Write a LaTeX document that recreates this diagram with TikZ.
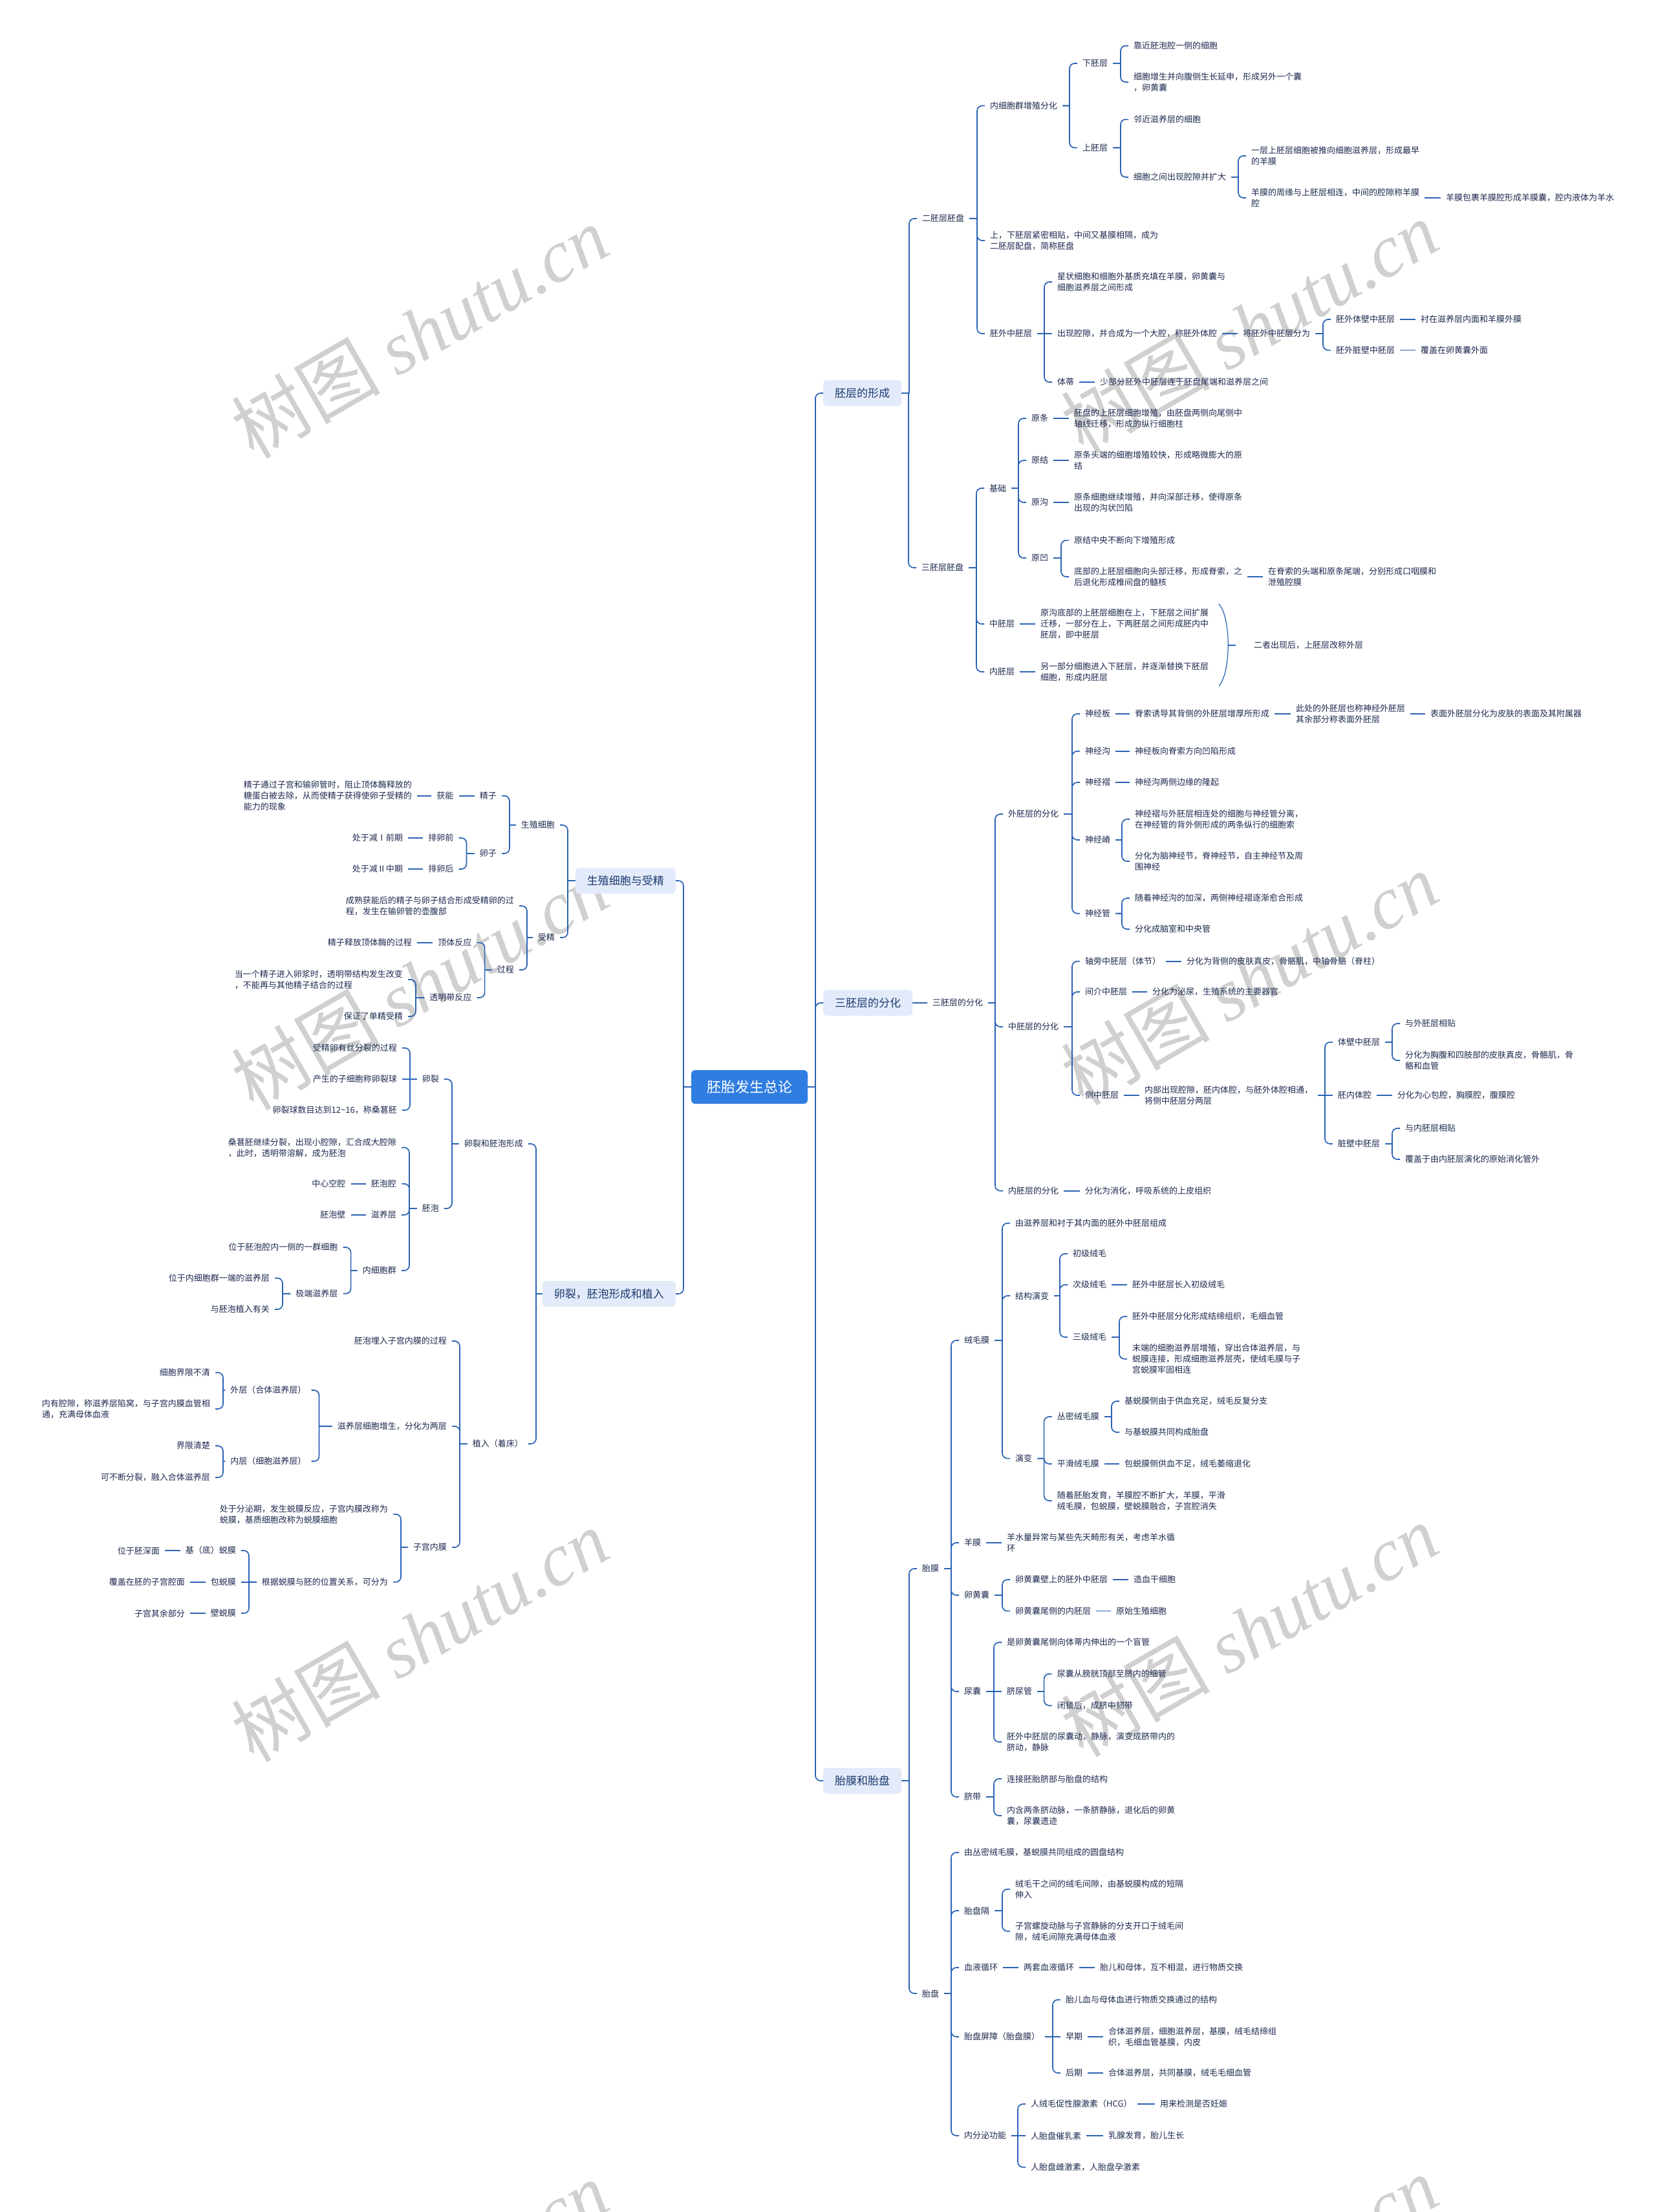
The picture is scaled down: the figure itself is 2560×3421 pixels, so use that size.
\documentclass[tikz,border=0pt]{standalone}
\usepackage{fontspec}
\setmainfont{Noto Sans CJK SC}
\newfontfamily\wmlat{Liberation Serif}
\usetikzlibrary{calc}
\definecolor{linec}{RGB}{43,99,180}
\definecolor{txtc}{RGB}{30,42,80}
\definecolor{boxf}{RGB}{227,235,250}
\definecolor{boxt}{RGB}{28,58,110}
\definecolor{rootf}{RGB}{47,125,225}
\definecolor{wmc}{RGB}{208,208,208}
\tikzset{
 mmtxt/.style={font=\fontsize{13pt}{17pt}\selectfont, text=txtc, inner xsep=8pt, inner ysep=2pt, align=left},
 nR/.style={mmtxt, anchor=west, xshift=-8pt},
 nL/.style={mmtxt, anchor=east, xshift=8pt},
 brbox/.style={font=\fontsize{17pt}{20pt}\selectfont, text=boxt, fill=boxf, rounded corners=6pt, inner xsep=18pt, inner ysep=0pt, minimum height=40pt},
 brR/.style={brbox, anchor=west},
 brL/.style={brbox, anchor=east},
 rootn/.style={font=\fontsize{22pt}{26pt}\selectfont, text=white, fill=rootf, rounded corners=6pt, inner xsep=24pt, inner ysep=0pt, minimum height=52pt},
 conn/.style={draw=linec, line width=1.7pt, rounded corners=8pt},
 wmark/.style={font=\fontsize{115pt}{120pt}\selectfont, text=wmc, rotate=30, anchor=center},
}
\newcommand\mmR[2]{\draw[conn] let \p1=(#1.east), \p2=(#2.west) in (\p1) -- (\x2-12pt,\y1) (\x2-12pt,\y1) -- (\x2-12pt,\y2) -- (\p2);}
\newcommand\mmS[2]{\draw[conn] (#1.east) -- (#2.west);}
\newcommand\mmL[2]{\draw[conn] let \p1=(#1.west), \p2=(#2.east) in (\p1) -- (\x2+12pt,\y1) (\x2+12pt,\y1) -- (\x2+12pt,\y2) -- (\p2);}
\newcommand\mmT[2]{\draw[conn] (#1.west) -- (#2.east);}
\begin{document}
\begin{tikzpicture}[x=1pt,y=-1pt]
\useasboundingbox (0,0) rectangle (2560,3421);
\fill[white] (0,0) rectangle (2560,3421);
% watermarks
\foreach \wy in {513,1521,2529,3537}{
 \node[wmark] at (649,\wy) {树图 {\wmlat\itshape shutu.cn}};
 \node[wmark] at (1932,\wy-8) {树图 {\wmlat\itshape shutu.cn}};
}
% root and branches
\node[rootn] (root) at (1159,1681) {胚胎发生总论};
\node[brR] (A) at (1273,608) {胚层的形成};
\node[brR] (B) at (1273,1551) {三胚层的分化};
\node[brR] (C) at (1273,2754) {胎膜和胎盘};
\node[brL] (D) at (1045,1362) {生殖细胞与受精};
\node[brL] (E) at (1045,2001) {卵裂，胚泡形成和植入};
\mmR{root}{A}\mmR{root}{B}\mmR{root}{C}
\mmL{root}{D}\mmL{root}{E}

% ===== A 胚层的形成
\node[nR] (A1) at (1426,338) {二胚层胚盘};
\node[nR] (A2) at (1425,878) {三胚层胚盘};
\mmR{A}{A1}\mmR{A}{A2}
\node[nR] (A11) at (1531,163.5) {内细胞群增殖分化};
\node[nR] (A12) at (1531,372) {上，下胚层紧密相贴，中间又基膜相隔，成为\\二胚层配盘，简称胚盘};
\node[nR] (A13) at (1531,516) {胚外中胚层};
\mmR{A1}{A11}\mmR{A1}{A12}\mmR{A1}{A13}
\node[nR] (A111) at (1674,98) {下胚层};
\node[nR] (A112) at (1674,228.5) {上胚层};
\mmR{A11}{A111}\mmR{A11}{A112}
\node[nR] (A1111) at (1753,70.7) {靠近胚泡腔一侧的细胞};
\node[nR] (A1112) at (1753,127) {细胞增生并向腹侧生长延申，形成另外一个囊\\，卵黄囊};
\mmR{A111}{A1111}\mmR{A111}{A1112}
\node[nR] (A1121) at (1753,184.6) {邻近滋养层的细胞};
\node[nR] (A1122) at (1753,274) {细胞之间出现腔隙并扩大};
\mmR{A112}{A1121}\mmR{A112}{A1122}
\node[nR] (A11221) at (1935,241) {一层上胚层细胞被推向细胞滋养层，形成最早\\的羊膜};
\node[nR] (A11222) at (1935,306) {羊膜的周缘与上胚层相连，中间的腔隙称羊膜\\腔};
\mmR{A1122}{A11221}\mmR{A1122}{A11222}
\node[nR] (A112221) at (2236,306) {羊膜包裹羊膜腔形成羊膜囊，腔内液体为羊水};
\mmS{A11222}{A112221}
\node[nR] (A131) at (1635,436) {星状细胞和细胞外基质充填在羊膜，卵黄囊与\\细胞滋养层之间形成};
\node[nR] (A132) at (1635,516) {出现腔隙，并合成为一个大腔，称胚外体腔};
\node[nR] (A133) at (1635,591) {体蒂};
\mmR{A13}{A131}\mmS{A13}{A132}\mmR{A13}{A133}
\node[nR] (A1321) at (1922,516) {将胚外中胚层分为};
\mmS{A132}{A1321}
\node[nR] (A13211) at (2066,494) {胚外体壁中胚层};
\node[nR] (A13212) at (2066,541.6) {胚外脏壁中胚层};
\mmR{A1321}{A13211}\mmR{A1321}{A13212}
\node[nR] (A132111) at (2197,494) {衬在滋养层内面和羊膜外膜};
\node[nR] (A132121) at (2197,541.6) {覆盖在卵黄囊外面};
\mmS{A13211}{A132111}\mmS{A13212}{A132121}
\node[nR] (A1331) at (1701,591) {少部分胚外中胚层连于胚盘尾端和滋养层之间};
\mmS{A133}{A1331}

\node[nR] (A21) at (1530,755) {基础};
\node[nR] (A22) at (1530,965) {中胚层};
\node[nR] (A23) at (1530,1039) {内胚层};
\mmR{A2}{A21}\mmR{A2}{A22}\mmR{A2}{A23}
\node[nR] (A211) at (1595,647) {原条};
\node[nR] (A212) at (1595,712) {原结};
\node[nR] (A213) at (1595,777) {原沟};
\node[nR] (A214) at (1595,863) {原凹};
\mmR{A21}{A211}\mmR{A21}{A212}\mmR{A21}{A213}\mmR{A21}{A214}
\node[nR] (A2111) at (1661,647) {胚盘的上胚层细胞增殖，由胚盘两侧向尾侧中\\轴线迁移，形成的纵行细胞柱};
\node[nR] (A2121) at (1661,712) {原条头端的细胞增殖较快，形成略微膨大的原\\结};
\node[nR] (A2131) at (1661,777) {原条细胞继续增殖，并向深部迁移，使得原条\\出现的沟状凹陷};
\mmS{A211}{A2111}\mmS{A212}{A2121}\mmS{A213}{A2131}
\node[nR] (A2141) at (1661,835.6) {原结中央不断向下增殖形成};
\node[nR] (A2142) at (1661,892) {底部的上胚层细胞向头部迁移，形成脊索，之\\后退化形成椎间盘的髓核};
\mmR{A214}{A2141}\mmR{A214}{A2142}
\node[nR] (A21421) at (1961,892) {在脊索的头端和原条尾端，分别形成口咽膜和\\泄殖腔膜};
\mmS{A2142}{A21421}
\node[nR] (A221) at (1609,965) {原沟底部的上胚层细胞在上，下胚层之间扩展\\迁移，一部分在上，下两胚层之间形成胚内中\\胚层，即中胚层};
\node[nR] (A231) at (1609,1039) {另一部分细胞进入下胚层，并逐渐替换下胚层\\细胞，形成内胚层};
\mmS{A22}{A221}\mmS{A23}{A231}
\coordinate (brT) at (1885,934);
\coordinate (brB) at (1885,1061);
\coordinate (brM) at (1899,998);
\coordinate (brE) at (1911,998);
\draw[draw=linec, line width=1.2pt] (brT) .. controls (1904,955) and (1904,1040) .. (brB);
\draw[draw=linec, line width=1.5pt] (brM) -- (brE);
\node[nR] (Asum) at (1939,998) {二者出现后，上胚层改称外层};

% ===== B 三胚层的分化
\node[nR] (B1) at (1442,1551) {三胚层的分化};
\mmS{B}{B1}
\node[nR] (B11) at (1559,1259) {外胚层的分化};
\node[nR] (B12) at (1559,1588) {中胚层的分化};
\node[nR] (B13) at (1559,1841.7) {内胚层的分化};
\mmR{B1}{B11}\mmR{B1}{B12}\mmR{B1}{B13}
\node[nR] (B111) at (1678,1104) {神经板};
\node[nR] (B112) at (1678,1161.7) {神经沟};
\node[nR] (B113) at (1678,1210) {神经褶};
\node[nR] (B114) at (1678,1299) {神经嵴};
\node[nR] (B115) at (1678,1412.7) {神经管};
\mmR{B11}{B111}\mmR{B11}{B112}\mmR{B11}{B113}\mmR{B11}{B114}\mmR{B11}{B115}
\node[nR] (B1111) at (1755,1104) {脊索诱导其背侧的外胚层增厚所形成};
\node[nR] (B11111) at (2004,1104) {此处的外胚层也称神经外胚层\\其余部分称表面外胚层};
\node[nR] (B111111) at (2212,1104) {表面外胚层分化为皮肤的表面及其附属器};
\mmS{B111}{B1111}\mmS{B1111}{B11111}\mmS{B11111}{B111111}
\node[nR] (B1121) at (1755,1161.7) {神经板向脊索方向凹陷形成};
\node[nR] (B1131) at (1755,1210) {神经沟两侧边缘的隆起};
\mmS{B112}{B1121}\mmS{B113}{B1131}
\node[nR] (B1141) at (1755,1267) {神经褶与外胚层相连处的细胞与神经管分离，\\在神经管的背外侧形成的两条纵行的细胞索};
\node[nR] (B1142) at (1755,1332) {分化为脑神经节，脊神经节，自主神经节及周\\围神经};
\mmR{B114}{B1141}\mmR{B114}{B1142}
\node[nR] (B1151) at (1755,1389) {随着神经沟的加深，两侧神经褶逐渐愈合形成};
\node[nR] (B1152) at (1755,1437) {分化成脑室和中央管};
\mmR{B115}{B1151}\mmR{B115}{B1152}
\node[nR] (B121) at (1678,1486.7) {轴旁中胚层（体节）};
\node[nR] (B122) at (1678,1534) {间介中胚层};
\node[nR] (B123) at (1678,1694) {侧中胚层};
\mmR{B12}{B121}\mmR{B12}{B122}\mmR{B12}{B123}
\node[nR] (B1211) at (1835,1486.7) {分化为背侧的皮肤真皮，骨骼肌，中轴骨骼（脊柱）};
\node[nR] (B1221) at (1782,1534) {分化为泌尿，生殖系统的主要器官};
\mmS{B121}{B1211}\mmS{B122}{B1221}
\node[nR] (B1231) at (1770,1694) {内部出现腔隙，胚内体腔，与胚外体腔相通，\\将侧中胚层分两层};
\mmS{B123}{B1231}
\node[nR] (B12311) at (2069,1611.7) {体壁中胚层};
\node[nR] (B12312) at (2069,1694) {胚内体腔};
\node[nR] (B12313) at (2069,1769) {脏壁中胚层};
\mmR{B1231}{B12311}\mmS{B1231}{B12312}\mmR{B1231}{B12313}
\node[nR] (B123111) at (2173,1583) {与外胚层相贴};
\node[nR] (B123112) at (2173,1640) {分化为胸腹和四肢部的皮肤真皮，骨骼肌，骨\\骼和血管};
\mmR{B12311}{B123111}\mmR{B12311}{B123112}
\node[nR] (B123121) at (2161,1694) {分化为心包腔，胸膜腔，腹膜腔};
\mmS{B12312}{B123121}
\node[nR] (B123131) at (2173,1745) {与内胚层相贴};
\node[nR] (B123132) at (2173,1793) {覆盖于由内胚层演化的原始消化管外};
\mmR{B12313}{B123131}\mmR{B12313}{B123132}
\node[nR] (B131) at (1678,1841.7) {分化为消化，呼吸系统的上皮组织};
\mmS{B13}{B131}

% ===== C 胎膜和胎盘
\node[nR] (C1) at (1426,2426) {胎膜};
\node[nR] (C2) at (1426,3083) {胎盘};
\mmR{C}{C1}\mmR{C}{C2}
\node[nR] (C11) at (1491,2073) {绒毛膜};
\node[nR] (C12) at (1491,2386) {羊膜};
\node[nR] (C13) at (1491,2467) {卵黄囊};
\node[nR] (C14) at (1491,2616) {尿囊};
\node[nR] (C15) at (1491,2779) {脐带};
\mmR{C1}{C11}\mmR{C1}{C12}\mmR{C1}{C13}\mmR{C1}{C14}\mmR{C1}{C15}
\node[nR] (C111) at (1570,1891.7) {由滋养层和衬于其内面的胚外中胚层组成};
\node[nR] (C112) at (1570,2004) {结构演变};
\node[nR] (C113) at (1570,2255.6) {演变};
\mmR{C11}{C111}\mmR{C11}{C112}\mmR{C11}{C113}
\node[nR] (C1121) at (1659,1939) {初级绒毛};
\node[nR] (C1122) at (1659,1987) {次级绒毛};
\node[nR] (C1123) at (1659,2068) {三级绒毛};
\mmR{C112}{C1121}\mmR{C112}{C1122}\mmR{C112}{C1123}
\node[nR] (C11221) at (1751,1987) {胚外中胚层长入初级绒毛};
\mmS{C1122}{C11221}
\node[nR] (C11231) at (1751,2036) {胚外中胚层分化形成结缔组织，毛细血管};
\node[nR] (C11232) at (1751,2101.7) {末端的细胞滋养层增殖，穿出合体滋养层，与\\蜕膜连接，形成细胞滋养层壳，使绒毛膜与子\\宫蜕膜牢固相连};
\mmR{C1123}{C11231}\mmR{C1123}{C11232}
\node[nR] (C1131) at (1634.6,2191) {丛密绒毛膜};
\node[nR] (C1132) at (1634.6,2264) {平滑绒毛膜};
\node[nR] (C1133) at (1634.6,2321) {随着胚胎发育，羊膜腔不断扩大，羊膜，平滑\\绒毛膜，包蜕膜，壁蜕膜融合，子宫腔消失};
\mmR{C113}{C1131}\mmR{C113}{C1132}\mmR{C113}{C1133}
\node[nR] (C11311) at (1739,2167) {基蜕膜侧由于供血充足，绒毛反复分支};
\node[nR] (C11312) at (1739,2215) {与基蜕膜共同构成胎盘};
\mmR{C1131}{C11311}\mmR{C1131}{C11312}
\node[nR] (C11321) at (1739,2264) {包蜕膜侧供血不足，绒毛萎缩退化};
\mmS{C1132}{C11321}
\node[nR] (C121) at (1557,2386) {羊水量异常与某些先天畸形有关，考虑羊水循\\环};
\mmS{C12}{C121}
\node[nR] (C131) at (1570,2443) {卵黄囊壁上的胚外中胚层};
\node[nR] (C132) at (1570,2491.6) {卵黄囊尾侧的内胚层};
\mmR{C13}{C131}\mmR{C13}{C132}
\node[nR] (C1311) at (1753,2443) {造血干细胞};
\node[nR] (C1321) at (1726,2491.6) {原始生殖细胞};
\mmS{C131}{C1311}\mmS{C132}{C1321}
\node[nR] (C141) at (1557,2540) {是卵黄囊尾侧向体蒂内伸出的一个盲管};
\node[nR] (C142) at (1557,2616) {脐尿管};
\node[nR] (C143) at (1557,2694) {胚外中胚层的尿囊动，静脉，演变成脐带内的\\脐动，静脉};
\mmR{C14}{C141}\mmS{C14}{C142}\mmR{C14}{C143}
\node[nR] (C1421) at (1634.6,2588.7) {尿囊从膀胱顶部至脐内的细管};
\node[nR] (C1422) at (1634.6,2637.7) {闭锁后，成脐中韧带};
\mmR{C142}{C1421}\mmR{C142}{C1422}
\node[nR] (C151) at (1557,2751) {连接胚胎脐部与胎盘的结构};
\node[nR] (C152) at (1557,2808) {内含两条脐动脉，一条脐静脉，退化后的卵黄\\囊，尿囊遗迹};
\mmR{C15}{C151}\mmR{C15}{C152}

\node[nR] (C21) at (1491,2865) {由丛密绒毛膜，基蜕膜共同组成的圆盘结构};
\node[nR] (C22) at (1491,2955) {胎盘隔};
\node[nR] (C23) at (1491,3043) {血液循环};
\node[nR] (C24) at (1491,3150) {胎盘屏障（胎盘膜）};
\node[nR] (C25) at (1491,3303) {内分泌功能};
\mmR{C2}{C21}\mmR{C2}{C22}\mmR{C2}{C23}\mmR{C2}{C24}\mmR{C2}{C25}
\node[nR] (C221) at (1570,2921.7) {绒毛干之间的绒毛间隙，由基蜕膜构成的短隔\\伸入};
\node[nR] (C222) at (1570,2986.7) {子宫螺旋动脉与子宫静脉的分支开口于绒毛间\\隙，绒毛间隙充满母体血液};
\mmR{C22}{C221}\mmR{C22}{C222}
\node[nR] (C231) at (1583,3043) {两套血液循环};
\node[nR] (C2311) at (1701,3043) {胎儿和母体，互不相混，进行物质交换};
\mmS{C23}{C231}\mmS{C231}{C2311}
\node[nR] (C241) at (1648,3092.7) {胎儿血与母体血进行物质交换通过的结构};
\node[nR] (C242) at (1648,3150) {早期};
\node[nR] (C243) at (1648,3206) {后期};
\mmR{C24}{C241}\mmS{C24}{C242}\mmR{C24}{C243}
\node[nR] (C2421) at (1714,3150) {合体滋养层，细胞滋养层，基膜，绒毛结缔组\\织，毛细血管基膜，内皮};
\node[nR] (C2431) at (1714,3206) {合体滋养层，共同基膜，绒毛毛细血管};
\mmS{C242}{C2421}\mmS{C243}{C2431}
\node[nR] (C251) at (1594,3254) {人绒毛促性腺激素（HCG）};
\node[nR] (C252) at (1594,3303) {人胎盘催乳素};
\node[nR] (C253) at (1594,3351.7) {人胎盘雌激素，人胎盘孕激素};
\mmR{C25}{C251}\mmS{C25}{C252}\mmR{C25}{C253}
\node[nR] (C2511) at (1794,3254) {用来检测是否妊娠};
\node[nR] (C2521) at (1714,3303) {乳腺发育，胎儿生长};
\mmS{C251}{C2511}\mmS{C252}{C2521}

% ===== D 生殖细胞与受精
\node[nL] (D1) at (858,1276) {生殖细胞};
\node[nL] (D2) at (858,1450) {受精};
\mmL{D}{D1}\mmL{D}{D2}
\node[nL] (D11) at (768,1230.7) {精子};
\node[nL] (D12) at (768,1320) {卵子};
\mmL{D1}{D11}\mmL{D1}{D12}
\node[nL] (D111) at (701.5,1230.7) {获能};
\node[nL] (D1111) at (637,1230.7) {精子通过子宫和输卵管时，阻止顶体酶释放的\\糖蛋白被去除，从而使精子获得使卵子受精的\\能力的现象};
\mmT{D11}{D111}\mmT{D111}{D1111}
\node[nL] (D121) at (701.5,1296) {排卵前};
\node[nL] (D122) at (701.5,1344) {排卵后};
\mmL{D12}{D121}\mmL{D12}{D122}
\node[nL] (D1211) at (623,1296) {处于减Ⅰ前期};
\node[nL] (D1221) at (623,1344) {处于减Ⅱ中期};
\mmT{D121}{D1211}\mmT{D122}{D1221}
\node[nL] (D21) at (795,1401) {成熟获能后的精子与卵子结合形成受精卵的过\\程，发生在输卵管的壶腹部};
\node[nL] (D22) at (795,1500) {过程};
\mmL{D2}{D21}\mmL{D2}{D22}
\node[nL] (D221) at (729.6,1457.7) {顶体反应};
\node[nL] (D222) at (729.6,1543) {透明带反应};
\mmL{D22}{D221}\mmL{D22}{D222}
\node[nL] (D2211) at (637,1457.7) {精子释放顶体酶的过程};
\mmT{D221}{D2211}
\node[nL] (D2221) at (623,1515) {当一个精子进入卵浆时，透明带结构发生改变\\，不能再与其他精子结合的过程};
\node[nL] (D2222) at (623,1572) {保证了单精受精};
\mmL{D222}{D2221}\mmL{D222}{D2222}

% ===== E 卵裂，胚泡形成和植入
\node[nL] (E1) at (809,1769) {卵裂和胚泡形成};
\node[nL] (E2) at (809,2233) {植入（着床）};
\mmL{E}{E1}\mmL{E}{E2}
\node[nL] (E11) at (679,1669) {卵裂};
\node[nL] (E12) at (679,1869) {胚泡};
\mmL{E1}{E11}\mmL{E1}{E12}
\node[nL] (E111) at (614,1620.7) {受精卵有丝分裂的过程};
\node[nL] (E112) at (614,1669) {产生的子细胞称卵裂球};
\node[nL] (E113) at (614,1717) {卵裂球数目达到12\textasciitilde16，称桑葚胚};
\mmL{E11}{E111}\mmT{E11}{E112}\mmL{E11}{E113}
\node[nL] (E121) at (613,1774.7) {桑葚胚继续分裂，出现小腔隙，汇合成大腔隙\\，此时，透明带溶解，成为胚泡};
\node[nL] (E122) at (613,1830.7) {胚泡腔};
\node[nL] (E123) at (613,1879) {滋养层};
\node[nL] (E124) at (613,1965) {内细胞群};
\mmL{E12}{E121}\mmL{E12}{E122}\mmL{E12}{E123}\mmL{E12}{E124}
\node[nL] (E1221) at (534.5,1830.7) {中心空腔};
\node[nL] (E1231) at (534.5,1879) {胚泡壁};
\mmT{E122}{E1221}\mmT{E123}{E1231}
\node[nL] (E1241) at (522.6,1929) {位于胚泡腔内一侧的一群细胞};
\node[nL] (E1242) at (522.6,2000.7) {极端滋养层};
\mmL{E124}{E1241}\mmL{E124}{E1242}
\node[nL] (E12421) at (417,1976.7) {位于内细胞群一端的滋养层};
\node[nL] (E12422) at (417,2025) {与胚泡植入有关};
\mmL{E1242}{E12421}\mmL{E1242}{E12422}
\node[nL] (E21) at (691,2074) {胚泡埋入子宫内膜的过程};
\node[nL] (E22) at (691,2205.7) {滋养层细胞增生，分化为两层};
\node[nL] (E23) at (691,2393) {子宫内膜};
\mmL{E2}{E21}\mmL{E2}{E22}\mmL{E2}{E23}
\node[nL] (E221) at (473.5,2150) {外层（合体滋养层）};
\node[nL] (E222) at (473.5,2260) {内层（细胞滋养层）};
\mmL{E22}{E221}\mmL{E22}{E222}
\node[nL] (E2211) at (325,2122.7) {细胞界限不清};
\node[nL] (E2212) at (325,2179) {内有腔隙，称滋养层陷窝，与子宫内膜血管相\\通，充满母体血液};
\mmL{E221}{E2211}\mmL{E221}{E2212}
\node[nL] (E2221) at (325,2236) {界限清楚};
\node[nL] (E2222) at (325,2285) {可不断分裂，融入合体滋养层};
\mmL{E222}{E2221}\mmL{E222}{E2222}
\node[nL] (E231) at (600,2341.7) {处于分泌期，发生蜕膜反应，子宫内膜改称为\\蜕膜，基质细胞改称为蜕膜细胞};
\node[nL] (E232) at (600,2446.7) {根据蜕膜与胚的位置关系，可分为};
\mmL{E23}{E231}\mmL{E23}{E232}
\node[nL] (E2321) at (365,2398) {基（底）蜕膜};
\node[nL] (E2322) at (365,2446.7) {包蜕膜};
\node[nL] (E2323) at (365,2495) {壁蜕膜};
\mmL{E232}{E2321}\mmT{E232}{E2322}\mmL{E232}{E2323}
\node[nL] (E23211) at (247,2398) {位于胚深面};
\node[nL] (E23221) at (286,2446.7) {覆盖在胚的子宫腔面};
\node[nL] (E23231) at (286,2495) {子宫其余部分};
\mmT{E2321}{E23211}\mmT{E2322}{E23221}\mmT{E2323}{E23231}
\end{tikzpicture}
\end{document}
